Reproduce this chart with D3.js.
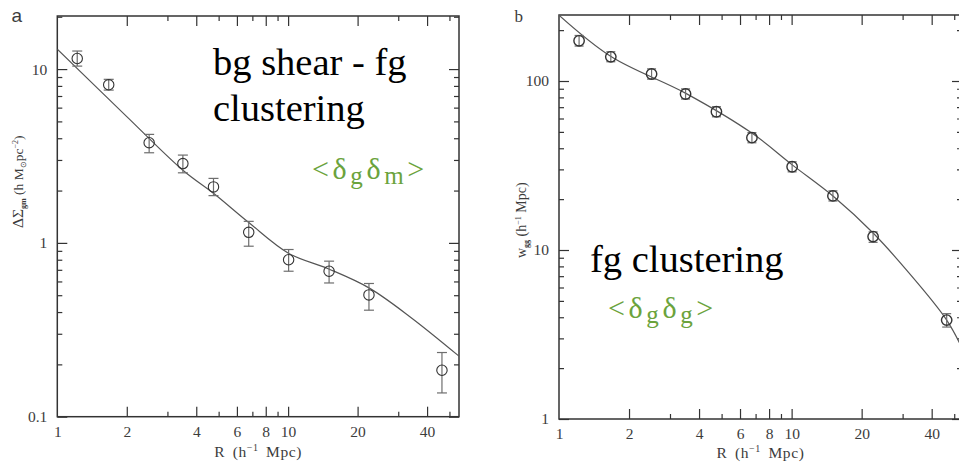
<!DOCTYPE html>
<html>
<head>
<meta charset="utf-8">
<script src="https://cdn.jsdelivr.net/npm/d3@7"></script>
<style>
  body { margin: 0; background: #fff; }
  svg { display: block; }
</style>
</head>
<body>
<svg id="chart" width="959" height="464"></svg>
<script>
// Projected radius of each measurement bin (h^-1 Mpc)
const radius = [1.22, 1.67, 2.5, 3.5, 4.75, 6.75, 10.05, 15.05, 22.4, 46.4];

// Panel a: galaxy-galaxy lensing excess surface density
const shearValues = [11.5, 8.12, 3.77, 2.86, 2.10, 1.15, 0.80, 0.687, 0.502, 0.185];
const shearHigh   = [12.7, 8.73, 4.21, 3.20, 2.35, 1.33, 0.916, 0.785, 0.584, 0.234];
const shearLow    = [10.4, 7.57, 3.30, 2.53, 1.87, 0.957, 0.687, 0.588, 0.410, 0.137];
const shearModelR = [1, 2, 3.5, 4.75, 6.75, 10.07, 15, 22.4, 33.8, 55];
const shearModel  = [13.0, 5.33, 2.62, 1.93, 1.31, 0.87, 0.708, 0.551, 0.375, 0.223];

// Panel b: projected galaxy autocorrelation
const clusterValues = [173, 139, 110, 83.8, 65.8, 46.2, 31.1, 20.9, 12.0, 3.85];
const clusterHigh   = [186, 149, 118, 89.8, 70.5, 49.5, 33.3, 22.4, 12.8, 4.2];
const clusterLow    = [161, 130, 102.6, 78.2, 61.4, 43.1, 29.0, 19.5, 11.1, 3.5];
const clusterModelR = [1, 1.68, 3.51, 6.77, 10.06, 15.1, 22.4, 31.2, 46.4, 55];
const clusterModel  = [245, 139, 84.5, 49, 31.9, 20.8, 12.6, 7.6, 3.85, 2.5];

// Axis ticks
const xTickLabels = [1, 2, 4, 6, 8, 10, 20, 40];
const xMajorTicks = [2, 4, 6, 8, 10, 20, 40];
const xMinorTicks = [3, 5, 7, 9, 30, 50];
const shearTickLabels = [0.1, 1, 10];
const clusterTickLabels = [1, 10, 100];

const svg = d3.select("#chart");
const INK = "#333";
const TEXT = "#3c3c3c";
const GREEN = "#6ba33c";
const SERIF = "'Liberation Serif', 'Times New Roman', serif";

function minorDecadeTicks(lo, hi) {
  const out = [];
  for (let p = Math.floor(Math.log10(lo)); p <= Math.ceil(Math.log10(hi)); p++) {
    for (let m = 2; m <= 9; m++) {
      const v = m * Math.pow(10, p);
      if (v > lo && v < hi) out.push(v);
    }
  }
  return out;
}

function drawPanel(opt) {
  const x = d3.scaleLog().domain(opt.xDomain).range(opt.xRange);
  const y = d3.scaleLog().domain(opt.yDomain).range(opt.yRange);
  const [x0, x1] = opt.xRange, [y0, y1] = opt.yRange;
  const g = svg.append("g");

  const clipId = "clip-" + opt.id;
  svg.append("clipPath").attr("id", clipId)
    .append("rect").attr("x", x0).attr("y", y1).attr("width", x1 - x0).attr("height", y0 - y1);

  const fmt = d => String(d);
  const styleAxis = sel => {
    sel.select(".domain").remove();
    sel.selectAll("line").attr("stroke", INK).attr("stroke-width", 1.2);
    sel.selectAll("text").attr("fill", TEXT).style("font-family", SERIF).style("font-size", "15.5px");
  };

  const yMinor = minorDecadeTicks(opt.yDomain[0], opt.yDomain[1]);
  const yMajor = opt.yLabels;

  // bottom
  g.append("g").attr("transform", `translate(0,${y0})`)
    .call(d3.axisBottom(x).tickValues(xMajorTicks).tickSize(-10).tickFormat("")).call(styleAxis);
  g.append("g").attr("transform", `translate(0,${y0})`)
    .call(d3.axisBottom(x).tickValues(xMinorTicks).tickSize(-5).tickFormat("")).call(styleAxis);
  g.append("g").attr("transform", `translate(0,${y0})`)
    .call(d3.axisBottom(x).tickValues(xTickLabels).tickSize(0).tickPadding(9).tickFormat(fmt)).call(styleAxis);
  // top
  g.append("g").attr("transform", `translate(0,${y1})`)
    .call(d3.axisTop(x).tickValues(xMajorTicks).tickSize(-10).tickFormat("")).call(styleAxis);
  g.append("g").attr("transform", `translate(0,${y1})`)
    .call(d3.axisTop(x).tickValues(xMinorTicks).tickSize(-5).tickFormat("")).call(styleAxis);
  // left
  g.append("g").attr("transform", `translate(${x0},0)`)
    .call(d3.axisLeft(y).tickValues(yMajor).tickSize(-10).tickPadding(10).tickFormat(fmt)).call(styleAxis);
  g.append("g").attr("transform", `translate(${x0},0)`)
    .call(d3.axisLeft(y).tickValues(yMinor).tickSize(-5).tickFormat("")).call(styleAxis);
  // right
  g.append("g").attr("transform", `translate(${x1},0)`)
    .call(d3.axisRight(y).tickValues(yMajor).tickSize(-10).tickFormat("")).call(styleAxis);
  g.append("g").attr("transform", `translate(${x1},0)`)
    .call(d3.axisRight(y).tickValues(yMinor).tickSize(-5).tickFormat("")).call(styleAxis);

  // frame
  g.append("rect").attr("x", x0).attr("y", y1).attr("width", x1 - x0).attr("height", y0 - y1)
    .attr("fill", "none").attr("stroke", INK).attr("stroke-width", 1.5);

  // model curve
  const line = d3.line().x(d => x(d[0])).y(d => y(d[1])).curve(d3.curveCatmullRom.alpha(0.5));
  g.append("path").attr("clip-path", `url(#${clipId})`)
    .datum(opt.modelR.map((r, i) => [r, opt.model[i]]))
    .attr("d", line).attr("fill", "none").attr("stroke", "#555").attr("stroke-width", 1.2);

  // error bars and points
  const pts = radius.map((r, i) => ({ r, v: opt.values[i], hi: opt.high[i], lo: opt.low[i] }));
  const eb = g.append("g").attr("stroke", "#6e6e6e").attr("stroke-width", 1.2).attr("fill", "none");
  pts.forEach(d => {
    const cx = x(d.r);
    eb.append("line").attr("x1", cx).attr("x2", cx).attr("y1", y(d.hi)).attr("y2", y(d.lo));
    eb.append("line").attr("x1", cx - opt.cap).attr("x2", cx + opt.cap).attr("y1", y(d.hi)).attr("y2", y(d.hi));
    eb.append("line").attr("x1", cx - opt.cap).attr("x2", cx + opt.cap).attr("y1", y(d.lo)).attr("y2", y(d.lo));
  });
  g.append("g").selectAll("circle").data(pts).join("circle")
    .attr("cx", d => x(d.r)).attr("cy", d => y(d.v)).attr("r", 5.2)
    .attr("fill", "none").attr("stroke", INK).attr("stroke-width", opt.ring);

  // x axis title
  const xt = g.append("text").attr("x", (x0 + x1) / 2).attr("y", opt.xTitleY)
    .attr("text-anchor", "middle").attr("fill", TEXT)
    .style("font-family", SERIF).style("font-size", "15.5px").style("word-spacing", "3px").style("letter-spacing", "0.6px");
  xt.append("tspan").text("R (h");
  xt.append("tspan").attr("dy", -6).style("font-size", "10px").text("−1");
  xt.append("tspan").attr("dy", 6).text(" Mpc)");

  return { x, y, g };
}

// Panel a
drawPanel({
  id: "a", xDomain: [1, 55], xRange: [57.3, 459], yDomain: [0.1, 20.2], yRange: [416.7, 16],
  yLabels: shearTickLabels, values: shearValues, high: shearHigh, low: shearLow,
  modelR: shearModelR, model: shearModel, cap: 5, ring: 1.1, xTitleY: 456.5
});

// Panel b
drawPanel({
  id: "b", xDomain: [1, 54], xRange: [559, 962], yDomain: [1, 245.8], yRange: [419, 15],
  yLabels: clusterTickLabels, values: clusterValues, high: clusterHigh, low: clusterLow,
  modelR: clusterModelR, model: clusterModel, cap: 4.5, ring: 1.4, xTitleY: 458
});

// y axis titles
const yta = svg.append("text").attr("transform", "translate(22.5,228) rotate(-90)")
  .attr("fill", TEXT).style("font-family", SERIF).style("font-size", "13.5px");
yta.append("tspan").style("font-size", "15.5px").text("ΔΣ");
yta.append("tspan").attr("dy", 3).style("font-size", "8px").style("font-weight", "bold").text("gm");
yta.append("tspan").attr("dy", -3).text(" (h M");
yta.append("tspan").attr("dy", 3).style("font-size", "8px").text("⊙");
yta.append("tspan").attr("dy", -3).text("pc");
yta.append("tspan").attr("dy", -5).style("font-size", "8px").text("−2");
yta.append("tspan").attr("dy", 5).text(")");

const ytb = svg.append("text").attr("transform", "translate(525.5,258) rotate(-90)")
  .attr("fill", TEXT).style("font-family", SERIF).style("font-size", "14px");
ytb.append("tspan").text("w");
ytb.append("tspan").attr("dy", 3).style("font-size", "8px").style("font-weight", "bold").text("gg");
ytb.append("tspan").attr("dy", -3).text(" (h");
ytb.append("tspan").attr("dy", -5).style("font-size", "8px").text("−1");
ytb.append("tspan").attr("dy", 5).text(" Mpc)");

// panel letters
svg.append("text").attr("x", 11.5).attr("y", 21.7).attr("fill", TEXT)
  .style("font-family", "'Liberation Sans', Arial, sans-serif").style("font-size", "19px").text("a");
svg.append("text").attr("x", 514.5).attr("y", 21.7).attr("fill", TEXT)
  .style("font-family", SERIF).style("font-size", "17px").text("b");

// annotations
const big = (x, y, s) => svg.append("text").attr("x", x).attr("y", y).attr("fill", "#000")
  .style("font-family", SERIF).style("font-size", "38.5px").text(s);
big(213, 75, "bg shear - fg");
big(213, 121, "clustering");
big(590, 271.5, "fg clustering");

function ensemble(x, y, a, b) {
  const t = svg.append("text").attr("x", x).attr("y", y).attr("fill", GREEN)
    .style("font-family", SERIF).style("font-size", "30px").style("letter-spacing", "3.6px");
  t.append("tspan").text("<δ");
  t.append("tspan").attr("dy", 5).style("font-size", "25px").text(a);
  t.append("tspan").attr("dy", -5).text("δ");
  t.append("tspan").attr("dy", 5).style("font-size", "25px").text(b);
  t.append("tspan").attr("dy", -5).text(">");
}
ensemble(312, 179, "g", "m");
ensemble(608, 318, "g", "g");
</script>
</body>
</html>
